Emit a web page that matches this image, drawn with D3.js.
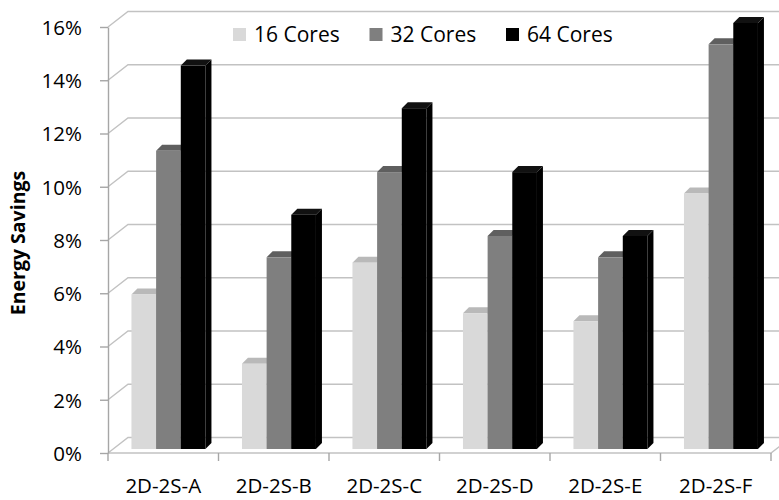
<!DOCTYPE html>
<html>
<head>
<meta charset="utf-8">
<script src="https://cdn.jsdelivr.net/npm/d3@7"></script>
<style>
  html, body { margin: 0; padding: 0; background: #fff; }
  svg { display: block; }
  text { font-family: "Open Sans", "DejaVu Sans", sans-serif; fill: #000; }
</style>
</head>
<body>
<svg id="chart" width="779" height="500"></svg>
<script>
// Energy savings (%) per configuration and core count
const categories = ["2D-2S-A", "2D-2S-B", "2D-2S-C", "2D-2S-D", "2D-2S-E", "2D-2S-F"];
const seriesNames = ["16 Cores", "32 Cores", "64 Cores"];
const cores16 = [5.8, 3.2, 7.0, 5.1, 4.8, 9.6];
const cores32 = [11.2, 7.2, 10.4, 8.0, 7.2, 15.2];
const cores64 = [14.4, 8.8, 12.8, 10.4, 8.0, 16.0];
const yTicks = [0, 2, 4, 6, 8, 10, 12, 14, 16];
const yTitle = "Energy Savings";

const seriesValues = [cores16, cores32, cores64];

// face colours: front, top, side
const palette = [
  { front: "#d9d9d9", top: "#b9b9b9", side: "#b0b0b0" },
  { front: "#7f7f7f", top: "#5f5f5f", side: "#555555" },
  { front: "#000000", top: "#111111", side: "#000000" }
];

const svg = d3.select("#chart");

// Front plane of the plot box
const plotLeft = 108, plotRight = 771, plotBottom = 453, plotTop = 27;
// Oblique depth of the floor / side wall
const depthX = 20, depthY = 15.5;
// Bars sit slightly behind the front plane and have a shallow depth
const barShiftX = 5.2, barShiftY = 4;
const barDX = 6, barDY = 6;

const x0 = d3.scaleBand().domain(categories).range([plotLeft, plotRight]).paddingInner(0).paddingOuter(0);
const x1 = d3.scaleBand().domain(seriesNames).range([0, x0.bandwidth()]).paddingInner(0).paddingOuter(0.74);
const y = d3.scaleLinear().domain([0, 16]).range([plotBottom, plotTop]);

const gridColor = "#c2c2c2";
const axisColor = "#a6a6a6";

// Side-wall and back-wall gridlines
const grid = svg.append("g").attr("fill", "none").attr("stroke", gridColor).attr("stroke-width", 1.4);
yTicks.forEach(v => {
  const yy = y(v);
  grid.append("path")
    .attr("d", d3.line()([[plotLeft, yy], [plotLeft + depthX, yy - depthY], [plotRight + depthX + 40, yy - depthY]]));
});

// Floor front edge and right edge
const floor = svg.append("g").attr("fill", "none").attr("stroke", gridColor).attr("stroke-width", 1.4);
floor.append("path").attr("d", d3.line()([[plotLeft, plotBottom], [plotRight, plotBottom], [plotRight + depthX, plotBottom - depthY]]));

// Bars
const groups = svg.append("g").selectAll("g")
  .data(categories)
  .join("g");

groups.each(function(cat, ci) {
  const g = d3.select(this);
  seriesNames.forEach((s, si) => {
    const v = seriesValues[si][ci];
    const xl = x0(cat) + x1(s) + barShiftX;
    const xr = xl + x1.bandwidth();
    const yt = y(v) - barShiftY;
    const yb = y(0) - barShiftY;
    const c = palette[si];
    g.append("path")
      .attr("fill", c.side)
      .attr("d", d3.line()([[xr, yt], [xr + barDX, yt - barDY], [xr + barDX, yb - barDY], [xr, yb]]) + "Z");
    g.append("path")
      .attr("fill", c.top)
      .attr("d", d3.line()([[xl, yt], [xl + barDX, yt - barDY], [xr + barDX, yt - barDY], [xr, yt]]) + "Z");
    g.append("rect")
      .attr("x", xl).attr("y", yt)
      .attr("width", x1.bandwidth()).attr("height", yb - yt)
      .attr("fill", c.front);
  });
});

// Y axis
const yAxis = svg.append("g")
  .attr("transform", `translate(${plotLeft},0)`)
  .call(d3.axisLeft(y).tickValues(yTicks).tickFormat(d => d + "%").tickSize(8).tickSizeOuter(0).tickPadding(18));
yAxis.select(".domain").attr("stroke", axisColor).attr("stroke-width", 1.4);
yAxis.selectAll(".tick line").attr("stroke", axisColor).attr("stroke-width", 1.4);
yAxis.selectAll(".tick text")
  .style("font-family", "'Open Sans', sans-serif")
  .style("font-size", "20.5px")
  .attr("fill", "#000")
  .attr("dy", "0.36em");

// X axis: labels centred in each category, ticks at category boundaries
const xAxis = svg.append("g")
  .attr("transform", `translate(0,${plotBottom})`)
  .call(d3.axisBottom(x0).tickSize(0).tickPadding(25));
xAxis.select(".domain").remove();
xAxis.selectAll(".tick text")
  .style("font-family", "'Open Sans', sans-serif")
  .style("font-size", "20.5px")
  .attr("fill", "#000");

const boundaries = categories.map(c => x0(c)).concat([x0(categories[categories.length - 1]) + x0.bandwidth()]);
svg.append("g").attr("stroke", axisColor).attr("stroke-width", 1.4)
  .selectAll("line")
  .data(boundaries)
  .join("line")
  .attr("x1", d => d).attr("x2", d => d)
  .attr("y1", plotBottom).attr("y2", plotBottom + 8);

// Y axis title
svg.append("text")
  .attr("transform", `translate(25,${(plotTop + plotBottom) / 2 + 3}) rotate(-90)`)
  .attr("text-anchor", "middle")
  .style("font-size", "19.5px")
  .style("font-weight", "bold")
  .text(yTitle);

// Legend
const legend = svg.append("g").attr("transform", "translate(233,28)");
const items = legend.selectAll("g")
  .data(seriesNames)
  .join("g")
  .attr("transform", (d, i) => `translate(${i * 136.5},0)`);
items.append("rect")
  .attr("width", 13).attr("height", 13)
  .attr("fill", (d, i) => palette[i].front);
items.append("text")
  .attr("x", 21).attr("y", 6.5).attr("dy", "0.36em")
  .style("font-size", "21px")
  .text(d => d);
</script>
</body>
</html>
